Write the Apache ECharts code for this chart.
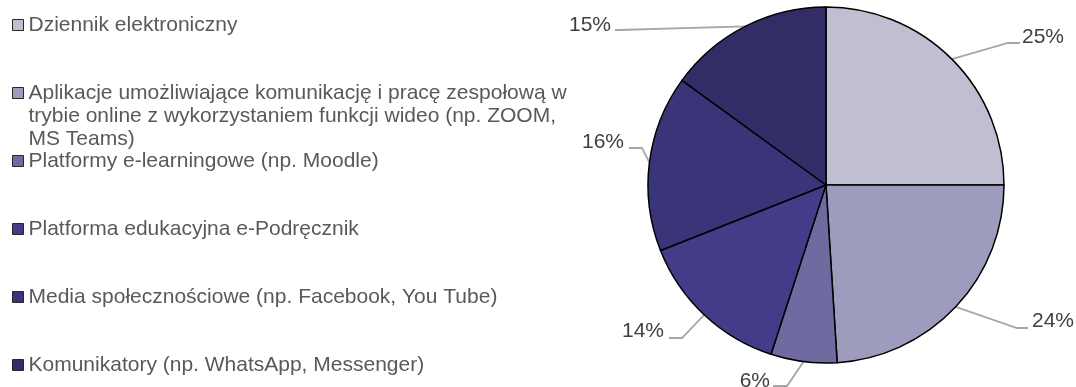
<!DOCTYPE html>
<html>
<head>
<meta charset="utf-8">
<script src="https://cdn.jsdelivr.net/npm/echarts@6/dist/echarts.min.js"></script>
<style>
  html, body { margin: 0; padding: 0; background: #ffffff; }
  #chart { width: 1076px; height: 387px; }
</style>
</head>
<body>
<div id="chart"></div>
<script>
// Narzędzia wykorzystywane w nauczaniu zdalnym – udział odpowiedzi (%)
const categories = [
  'Dziennik elektroniczny',
  'Aplikacje umożliwiające komunikację i pracę zespołową w trybie online z wykorzystaniem funkcji wideo (np. ZOOM, MS Teams)',
  'Platformy e-learningowe (np. Moodle)',
  'Platforma edukacyjna e-Podręcznik',
  'Media społecznościowe (np. Facebook, You Tube)',
  'Komunikatory (np. WhatsApp, Messenger)'
];
const shares = [25, 24, 6, 14, 16, 15];

// Legend text with manual line breaks
const legendText = [
  'Dziennik elektroniczny',
  'Aplikacje umożliwiające komunikację i pracę zespołową w\ntrybie online z wykorzystaniem funkcji wideo (np. ZOOM,\nMS Teams)',
  'Platformy e-learningowe (np. Moodle)',
  'Platforma edukacyjna e-Podręcznik',
  'Media społecznościowe (np. Facebook, You Tube)',
  'Komunikatory (np. WhatsApp, Messenger)'
];

const sliceColors = ['#c0bfd1', '#9e9cbc', '#6f6aa0', '#433c89', '#3a3579', '#322c67'];

// Where each percentage label sits, and the bend of its leader line
const labelSpots = [
  { x: 1022, y: 37,  align: 'left',  elbow: [1008, 43], end: [1020, 43] },
  { x: 1032, y: 321, align: 'left',  elbow: [1017, 328], end: [1028, 328] },
  { x: 770,  y: 381, align: 'right', elbow: [787, 386], end: [773, 386] },
  { x: 664,  y: 331, align: 'right', elbow: [682, 338], end: [669, 338] },
  { x: 624,  y: 142, align: 'right', elbow: [642, 148], end: [629, 148] },
  { x: 611,  y: 25,  align: 'right', elbow: [619, 30], end: [615, 30] }
];

const FONT = '"Liberation Sans", Arial, sans-serif';
const LINE_H = 23;
const LEGEND_STEP = 68;
const LEGEND_FIRST = 25;

// Multi-line entries get blank lines in front so the icon stays beside the first line
function legendLabel(i) {
  const lines = legendText[i].split('\n');
  let pre = '';
  for (let k = 1; k < lines.length; k++) pre += '\n';
  return pre + legendText[i];
}

// One legend block per entry so every entry keeps its own slot
const legends = categories.map(function (name, i) {
  const totalLines = legendLabel(i).split('\n').length;
  const centre = LEGEND_FIRST + LEGEND_STEP * i;
  return {
    orient: 'vertical',
    left: 12,
    top: centre - totalLines * LINE_H / 2,
    padding: 0,
    itemWidth: 11,
    itemHeight: 11,
    icon: 'rect',
    selectedMode: false,
    data: [name],
    formatter: function (n) { return legendLabel(categories.indexOf(n)); },
    itemStyle: { borderColor: '#262626', borderWidth: 1 },
    textStyle: {
      fontFamily: FONT,
      fontSize: 21,
      color: '#595959',
      lineHeight: LINE_H
    }
  };
});

const chart = echarts.init(document.getElementById('chart'), null, { renderer: 'canvas' });

chart.setOption({
  animation: false,
  backgroundColor: '#ffffff',
  color: sliceColors,
  legend: legends,
  series: [{
    type: 'pie',
    center: [826, 185],
    radius: 178,
    startAngle: 90,
    clockwise: true,
    avoidLabelOverlap: false,
    silent: true,
    data: categories.map(function (name, i) { return { name: name, value: shares[i] }; }),
    itemStyle: { borderColor: '#000000', borderWidth: 1.5 },
    label: {
      show: true,
      position: 'outside',
      formatter: '{c}%',
      fontFamily: FONT,
      fontSize: 21,
      color: '#404040'
    },
    labelLine: {
      show: true,
      length: 10,
      length2: 10,
      lineStyle: { color: '#a6a6a6', width: 1.8 }
    },
    labelLayout: function (params) {
      const s = labelSpots[params.dataIndex];
      const out = { x: s.x, y: s.y, align: s.align, verticalAlign: 'middle' };
      if (params.labelLinePoints && params.labelLinePoints[0]) {
        out.labelLinePoints = [params.labelLinePoints[0], s.elbow, s.end];
      }
      return out;
    },
    emphasis: { disabled: true }
  }]
});
</script>
</body>
</html>
